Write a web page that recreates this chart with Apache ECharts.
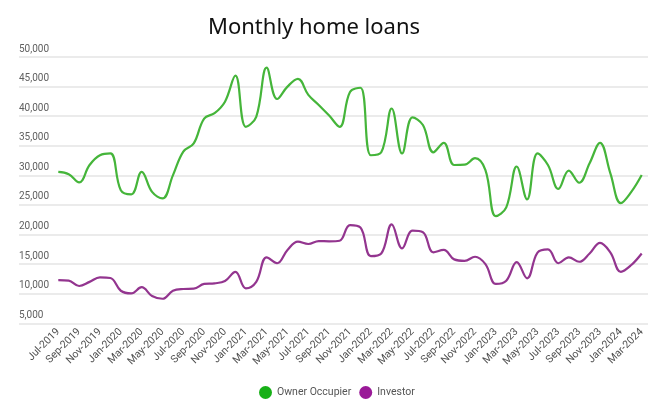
<!DOCTYPE html>
<html>
<head>
<meta charset="utf-8">
<script src="https://cdn.jsdelivr.net/npm/echarts@6/dist/echarts.min.js"></script>
<style>
  html, body { margin: 0; padding: 0; background: #ffffff; }
  #chart { width: 651px; height: 410px; }
</style>
</head>
<body>
<div id="chart"></div>
<script>
const months = [
  'Jul-2019','Aug-2019','Sep-2019','Oct-2019','Nov-2019','Dec-2019',
  'Jan-2020','Feb-2020','Mar-2020','Apr-2020','May-2020','Jun-2020','Jul-2020','Aug-2020','Sep-2020','Oct-2020','Nov-2020','Dec-2020',
  'Jan-2021','Feb-2021','Mar-2021','Apr-2021','May-2021','Jun-2021','Jul-2021','Aug-2021','Sep-2021','Oct-2021','Nov-2021','Dec-2021',
  'Jan-2022','Feb-2022','Mar-2022','Apr-2022','May-2022','Jun-2022','Jul-2022','Aug-2022','Sep-2022','Oct-2022','Nov-2022','Dec-2022',
  'Jan-2023','Feb-2023','Mar-2023','Apr-2023','May-2023','Jun-2023','Jul-2023','Aug-2023','Sep-2023','Oct-2023','Nov-2023','Dec-2023',
  'Jan-2024','Feb-2024','Mar-2024'
];

const ownerOccupier = [
  30600, 30200, 28800, 31750, 33400, 33700,
  27500, 26800, 30600, 27200, 26100, 30000, 34000, 35400, 39600, 40500, 42450, 46850,
  38200, 39900, 48200, 42900, 45000, 46300, 43600, 41900, 40100, 38200, 44100, 44800,
  33400, 33900, 41300, 33700, 39800, 38500, 33900, 35500, 31750, 31800, 32900, 30900,
  23100, 24600, 31500, 25950, 33700, 31750, 27700, 30800, 28750, 32050, 35500, 30300,
  25300, 27200, 30050
];

const investor = [
  12300, 12200, 11300, 12000, 12750, 12650,
  10500, 10050, 11100, 9600, 9150, 10500, 10800, 10850, 11650, 11750, 12150, 13700,
  10900, 12000, 16150, 15150, 17400, 18800, 18400, 18900, 18850, 18950, 21600, 21200,
  16350, 16800, 21700, 17650, 20650, 20400, 17000, 17400, 15800, 15550, 16250, 15000,
  11650, 12200, 15350, 12600, 16950, 17500, 15150, 16150, 15400, 16800, 18600, 16950,
  13700, 14850, 16800
];

const seriesNames = ['Owner Occupier', 'Investor'];
const yMin = 5000, yMax = 50000, yStep = 5000;

const chart = echarts.init(document.getElementById('chart'), null, { renderer: 'canvas' });

chart.setOption({
  backgroundColor: '#ffffff',
  animation: false,
  title: {
    text: 'Monthly home loans',
    left: 203,
    top: 12,
    textStyle: { fontFamily: 'Noto Sans', fontSize: 22, fontWeight: 'normal', color: '#111111' }
  },
  legend: {
    data: seriesNames,
    left: 254,
    top: 381,
    icon: 'circle',
    itemWidth: 13,
    itemHeight: 13,
    itemGap: 8,
    textStyle: { fontFamily: 'Roboto', fontSize: 10.5, color: '#555555' }
  },
  grid: [
    { left: 19, right: 3, top: 57, bottom: 86.7 },
    { left: 58.3, right: 9.3, top: 57, bottom: 86.7 }
  ],
  xAxis: [
    { gridIndex: 0, type: 'value', min: 0, max: 1, show: false },
    {
      gridIndex: 1,
      type: 'category',
      data: months,
      boundaryGap: false,
      axisLine: { show: false },
      axisTick: { show: false },
      splitLine: { show: false },
      axisLabel: {
        interval: 1,
        rotate: 45,
        margin: 7,
        fontFamily: 'Roboto',
        fontSize: 10.5,
        color: '#505050'
      }
    }
  ],
  yAxis: [
    {
      gridIndex: 0,
      type: 'value',
      min: yMin,
      max: yMax,
      interval: yStep,
      axisLine: { show: false },
      axisTick: { show: false },
      splitLine: { show: true, lineStyle: { color: '#e4e4e4', width: 1.5 } },
      axisLabel: {
        inside: true,
        margin: 0,
        align: 'left',
        verticalAlign: 'bottom',
        padding: [0, 0, 3, 0],
        fontFamily: 'Roboto',
        fontSize: 10,
        color: '#606060',
        formatter: v => v.toLocaleString('en-US')
      }
    },
    { gridIndex: 1, type: 'value', min: yMin, max: yMax, interval: yStep, show: false }
  ],
  series: [
    {
      name: seriesNames[0],
      type: 'line',
      xAxisIndex: 1,
      yAxisIndex: 1,
      data: ownerOccupier,
      smooth: 0.4,
      showSymbol: false,
      itemStyle: { color: '#17b017' },
      lineStyle: { color: '#45b53a', width: 2.2 }
    },
    {
      name: seriesNames[1],
      type: 'line',
      xAxisIndex: 1,
      yAxisIndex: 1,
      data: investor,
      smooth: 0.4,
      showSymbol: false,
      itemStyle: { color: '#9a1a98' },
      lineStyle: { color: '#93358f', width: 2.2 }
    }
  ]
});
</script>
</body>
</html>
